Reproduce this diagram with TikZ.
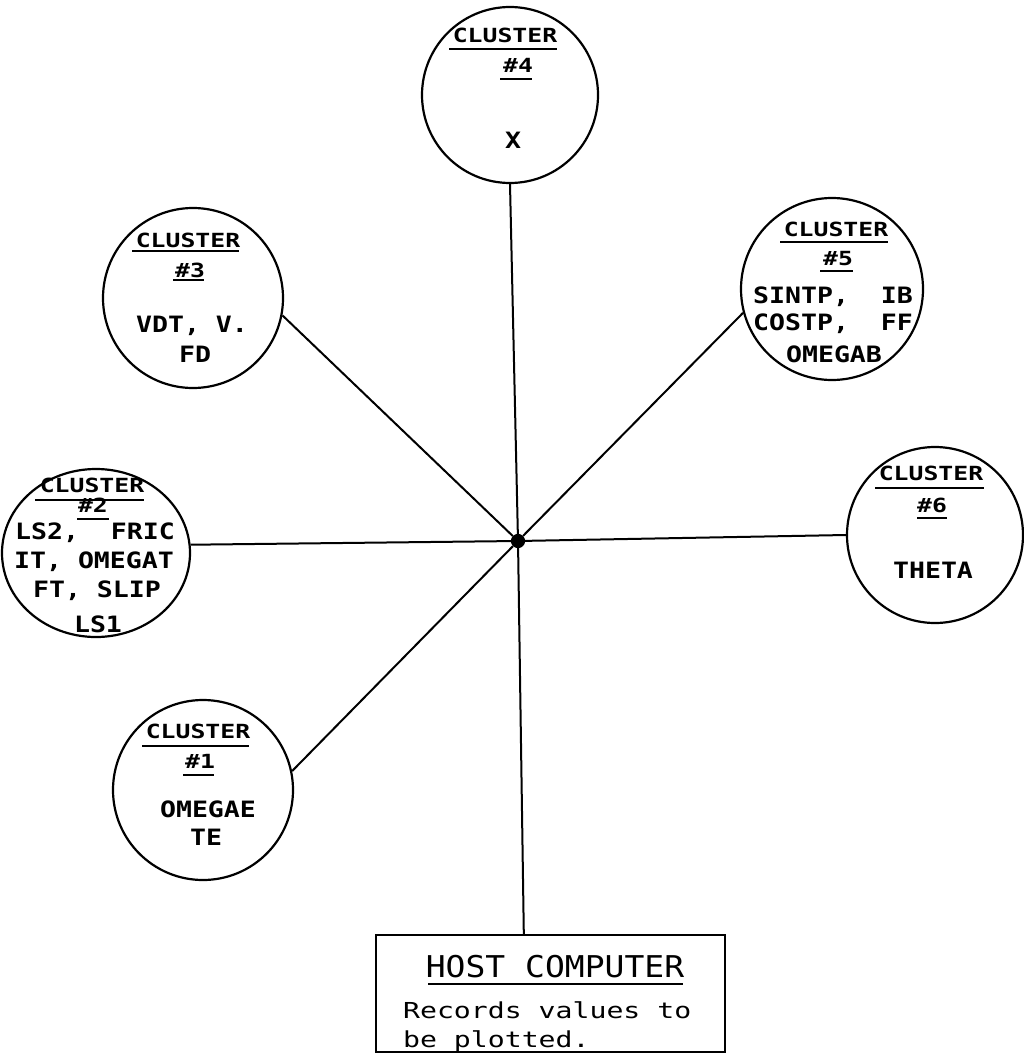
\documentclass[tikz,border=0pt]{standalone}
\usepackage{fontspec}
\newfontfamily\hdfont[FakeStretch=1.27]{DejaVu Sans Mono Bold}
\newfontfamily\vrfont[FakeStretch=1.18]{DejaVu Sans Mono Bold}
\newfontfamily\htfont[FakeStretch=1.10]{DejaVu Sans Mono}
\newfontfamily\rcfont[FakeStretch=1.28]{DejaVu Sans Mono}
\usetikzlibrary{shapes.geometric,calc}
\tikzset{
  cl/.style={draw, circle, inner sep=0pt, minimum size=#1},
  hubdot/.style={draw, fill=black, circle, inner sep=0pt, minimum size=12},
  hdtxt/.style={inner sep=0pt, anchor=base, font=\hdfont\fontsize{19.5}{19.5}\selectfont},
  vartxt/.style={inner sep=0pt, anchor=base, font=\vrfont\fontsize{22.5}{22.5}\selectfont},
  titletxt/.style={inner sep=0pt, anchor=base, font=\htfont\fontsize{30}{30}\selectfont},
  bodytxt/.style={inner sep=0pt, anchor=base west, font=\rcfont\fontsize{22}{22}\selectfont},
  uline/.style={line width=2.2pt},
  conn/.style={line width=2pt}
}
\begin{document}
\begin{tikzpicture}[x=1pt,y=-1pt,line width=2.2pt]
\useasboundingbox (0,0) rectangle (1023,1054);

% clusters
\node[cl=176] (c4) at (510,95) {};
\node[cl=180] (c3) at (193,298) {};
\node[cl=182] (c5) at (832,289) {};
\node[cl=176] (c6) at (935,535) {};
\node[draw, ellipse, inner sep=0pt, minimum width=188, minimum height=168] (c2) at (96,553) {};
\node[cl=180] (c1) at (203,790) {};

% host computer box
\node[draw, rectangle, inner sep=0pt, minimum width=349, minimum height=117] (host) at (550.5,993.5) {};

% hub
\node[hubdot] (hub) at (518,541) {};

% connectors
\draw[conn] (c4.south) -- (hub);
\draw[conn] (c3.-11) -- (hub);
\draw[conn] (c5.195) -- (hub);
\draw[conn] (c2.5) -- (hub);
\draw[conn] (c6.west) -- (hub);
\draw[conn] (c1.12) -- (hub);
\draw[conn] (hub) -- ($(host.north west)!0.424!(host.north east)$);

% cluster 4
\node[hdtxt] (c4h) at (505,43) {CLUSTER};
\node[hdtxt] (c4n) at (518,73) {\#4};
\node[vartxt] (c4v) at (513,149) {X};
\draw[uline] (449,49) -- (557,49);
\draw[uline] (500,79) -- (532,79);

% cluster 3
\node[hdtxt] (c3h) at (188,247) {CLUSTER};
\node[hdtxt] (c3n) at (190,277) {\#3};
\node[vartxt] (c3a) at (192,332) {VDT, V.};
\node[vartxt] (c3b) at (195,362) {FD};
\draw[uline] (132,251) -- (239,251);
\draw[uline] (173,280) -- (204,280);

% cluster 5
\node[hdtxt] (c5h) at (836,236) {CLUSTER};
\node[hdtxt] (c5n) at (838,265) {\#5};
\node[vartxt] (c5a) at (833,303) {SINTP,~~IB};
\node[vartxt] (c5b) at (833,330) {COSTP,~~FF};
\node[vartxt] (c5c) at (834,362) {OMEGAB};
\draw[uline] (780,242) -- (888,242);
\draw[uline] (820,271) -- (853,271);

% cluster 6
\node[hdtxt] (c6h) at (931,480) {CLUSTER};
\node[hdtxt] (c6n) at (932,512) {\#6};
\node[vartxt] (c6v) at (933,578) {THETA};
\draw[uline] (875,488) -- (984,488);
\draw[uline] (917,518) -- (947,518);

% cluster 2
\node[hdtxt] (c2h) at (92,492) {CLUSTER};
\node[hdtxt] (c2n) at (93,512) {\#2};
\node[vartxt] (c2a) at (95,539) {LS2,~~FRIC};
\node[vartxt] (c2b) at (94,568) {IT, OMEGAT};
\node[vartxt] (c2c) at (97,597) {FT, SLIP};
\node[vartxt] (c2d) at (98,632) {LS1};
\draw[uline] (35,500) -- (144,500);
\draw[uline] (77,519) -- (109,519);

% cluster 1
\node[hdtxt] (c1h) at (198,738) {CLUSTER};
\node[hdtxt] (c1n) at (200,768) {\#1};
\node[vartxt] (c1a) at (208,817) {OMEGAE};
\node[vartxt] (c1b) at (206,845) {TE};
\draw[uline] (142,746) -- (249,746);
\draw[uline] (183,775) -- (214,775);

% host text
\node[titletxt] (hostt) at (555,977) {HOST COMPUTER};
\draw[uline] (428,984) -- (683,984);
\node[bodytxt] (hostb1) at (402,1018) {Records values to};
\node[bodytxt] (hostb2) at (402,1047) {be plotted.};
\end{tikzpicture}
\end{document}
